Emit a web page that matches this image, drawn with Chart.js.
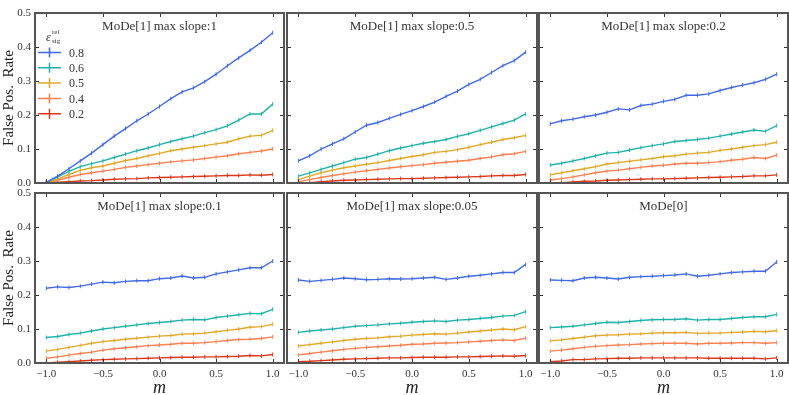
<!DOCTYPE html>
<html>
<head>
<meta charset="utf-8">
<script src="https://cdn.jsdelivr.net/npm/chart.js@4.4.1/dist/chart.umd.min.js"></script>
<style>
  html, body { margin: 0; padding: 0; background: #fff; overflow: hidden; }
  #wrap { position: relative; width: 789px; height: 395px; overflow: hidden; }
  canvas { position: absolute; }
</style>
</head>
<body>
<div id="wrap"></div>
<script>
// x positions (m) and tick labels
const mValues = [-1.0, -0.9, -0.8, -0.7, -0.6, -0.5, -0.4, -0.3, -0.2, -0.1, 0.0, 0.1, 0.2, 0.3, 0.4, 0.5, 0.6, 0.7, 0.8, 0.9, 1.0];
const xTicks = [-1.0, -0.5, 0.0, 0.5, 1.0];
const yTicks = [0.0, 0.1, 0.2, 0.3, 0.4, 0.5];
const effLabels = ["0.8", "0.6", "0.5", "0.4", "0.2"];
const panelTitles = [
  "MoDe[1] max slope:1",
  "MoDe[1] max slope:0.5",
  "MoDe[1] max slope:0.2",
  "MoDe[1] max slope:0.1",
  "MoDe[1] max slope:0.05",
  "MoDe[0]",
];

// MoDe[1] max slope:1
const slope1_e08 = [0.002, 0.02, 0.042, 0.065, 0.088, 0.113, 0.138, 0.16, 0.183, 0.203, 0.225, 0.248, 0.268, 0.28, 0.298, 0.32, 0.345, 0.368, 0.39, 0.414, 0.442];
const slope1_e06 = [0.002, 0.018, 0.034, 0.048, 0.057, 0.065, 0.075, 0.085, 0.095, 0.103, 0.113, 0.122, 0.13, 0.138, 0.148, 0.157, 0.168, 0.185, 0.203, 0.203, 0.232];
const slope1_e05 = [0.001, 0.012, 0.025, 0.037, 0.045, 0.05, 0.058, 0.066, 0.072, 0.08, 0.087, 0.095, 0.1, 0.105, 0.11, 0.115, 0.12, 0.13, 0.138, 0.14, 0.155];
const slope1_e04 = [0.0, 0.008, 0.017, 0.025, 0.03, 0.035, 0.04, 0.046, 0.05, 0.054, 0.058, 0.062, 0.065, 0.068, 0.072, 0.076, 0.08, 0.086, 0.09, 0.094, 0.1];
const slope1_e02 = [0.0, 0.002, 0.004, 0.006, 0.007, 0.009, 0.011, 0.012, 0.013, 0.015, 0.016, 0.017, 0.018, 0.019, 0.02, 0.021, 0.022, 0.022, 0.024, 0.023, 0.025];

// MoDe[1] max slope:0.5
const slope05_e08 = [0.065, 0.08, 0.1, 0.115, 0.13, 0.15, 0.17, 0.178, 0.19, 0.202, 0.213, 0.225, 0.238, 0.255, 0.27, 0.29, 0.305, 0.325, 0.345, 0.36, 0.385];
const slope05_e06 = [0.02, 0.03, 0.04, 0.05, 0.06, 0.07, 0.075, 0.085, 0.095, 0.103, 0.11, 0.117, 0.122, 0.128, 0.137, 0.145, 0.155, 0.165, 0.175, 0.185, 0.203];
const slope05_e05 = [0.01, 0.02, 0.03, 0.038, 0.045, 0.05, 0.055, 0.06, 0.066, 0.072, 0.078, 0.083, 0.09, 0.093, 0.098, 0.105, 0.113, 0.12, 0.128, 0.133, 0.14];
const slope05_e04 = [0.004, 0.01, 0.016, 0.022, 0.027, 0.032, 0.036, 0.04, 0.044, 0.048, 0.051, 0.054, 0.058, 0.061, 0.064, 0.067, 0.072, 0.077, 0.083, 0.086, 0.093];
const slope05_e02 = [0.0, 0.001, 0.004, 0.006, 0.008, 0.009, 0.01, 0.011, 0.012, 0.013, 0.013, 0.014, 0.015, 0.016, 0.017, 0.018, 0.019, 0.021, 0.022, 0.022, 0.025];

// MoDe[1] max slope:0.2
const slope02_e08 = [0.174, 0.183, 0.188, 0.195, 0.2, 0.208, 0.218, 0.215, 0.228, 0.232, 0.24, 0.246, 0.258, 0.258, 0.262, 0.272, 0.281, 0.288, 0.295, 0.305, 0.32];
const slope02_e06 = [0.053, 0.058, 0.065, 0.072, 0.08, 0.088, 0.09, 0.097, 0.104, 0.11, 0.115, 0.122, 0.125, 0.128, 0.132, 0.138, 0.144, 0.15, 0.156, 0.152, 0.169];
const slope02_e05 = [0.024, 0.03, 0.036, 0.042, 0.048, 0.056, 0.06, 0.064, 0.068, 0.072, 0.077, 0.08, 0.085, 0.088, 0.09, 0.096, 0.1, 0.105, 0.11, 0.113, 0.12];
const slope02_e04 = [0.009, 0.013, 0.018, 0.024, 0.03, 0.035, 0.038, 0.042, 0.046, 0.05, 0.052, 0.056, 0.058, 0.058, 0.06, 0.063, 0.067, 0.07, 0.075, 0.072, 0.082];
const slope02_e02 = [0.0, 0.001, 0.003, 0.005, 0.006, 0.008, 0.009, 0.01, 0.011, 0.012, 0.012, 0.013, 0.014, 0.015, 0.016, 0.017, 0.018, 0.019, 0.021, 0.021, 0.024];

// MoDe[1] max slope:0.1
const slope01_e08 = [0.22, 0.224, 0.222, 0.226, 0.232, 0.238, 0.236, 0.24, 0.242, 0.242, 0.248, 0.25, 0.256, 0.25, 0.252, 0.262, 0.268, 0.274, 0.28, 0.28, 0.3];
const slope01_e06 = [0.075, 0.078, 0.084, 0.088, 0.094, 0.1, 0.104, 0.108, 0.112, 0.116, 0.119, 0.122, 0.126, 0.128, 0.127, 0.134, 0.138, 0.142, 0.146, 0.145, 0.158];
const slope01_e05 = [0.035, 0.04, 0.046, 0.052, 0.058, 0.063, 0.066, 0.07, 0.073, 0.076, 0.079, 0.081, 0.085, 0.086, 0.088, 0.092, 0.096, 0.1, 0.105, 0.107, 0.114];
const slope01_e04 = [0.014, 0.018, 0.023, 0.028, 0.032, 0.038, 0.042, 0.045, 0.048, 0.051, 0.053, 0.055, 0.058, 0.058, 0.06, 0.063, 0.066, 0.069, 0.07, 0.072, 0.077];
const slope01_e02 = [0.0, 0.002, 0.004, 0.006, 0.008, 0.01, 0.011, 0.012, 0.013, 0.014, 0.015, 0.016, 0.017, 0.017, 0.018, 0.018, 0.019, 0.02, 0.022, 0.021, 0.025];

// MoDe[1] max slope:0.05
const slope005_e08 = [0.244, 0.24, 0.243, 0.246, 0.25, 0.248, 0.245, 0.246, 0.248, 0.247, 0.248, 0.25, 0.252, 0.246, 0.25, 0.255, 0.258, 0.262, 0.266, 0.266, 0.29];
const slope005_e06 = [0.09, 0.094, 0.097, 0.1, 0.104, 0.108, 0.11, 0.112, 0.115, 0.117, 0.12, 0.122, 0.124, 0.122, 0.126, 0.128, 0.131, 0.134, 0.138, 0.14, 0.151];
const slope005_e05 = [0.05, 0.054, 0.058, 0.062, 0.066, 0.07, 0.072, 0.074, 0.077, 0.079, 0.082, 0.084, 0.086, 0.085, 0.088, 0.091, 0.094, 0.097, 0.1, 0.098, 0.107];
const slope005_e04 = [0.024, 0.028, 0.032, 0.036, 0.04, 0.043, 0.046, 0.048, 0.05, 0.052, 0.055, 0.056, 0.058, 0.059, 0.06, 0.062, 0.064, 0.066, 0.068, 0.066, 0.073];
const slope005_e02 = [0.004, 0.005, 0.007, 0.009, 0.011, 0.012, 0.013, 0.014, 0.015, 0.015, 0.016, 0.017, 0.017, 0.017, 0.018, 0.018, 0.019, 0.02, 0.021, 0.02, 0.022];

// MoDe[0]
const mode0_e08 = [0.244, 0.243, 0.242, 0.25, 0.252, 0.25, 0.247, 0.252, 0.254, 0.255, 0.257, 0.259, 0.262, 0.255, 0.258, 0.262, 0.266, 0.268, 0.27, 0.27, 0.297];
const mode0_e06 = [0.104, 0.106, 0.108, 0.112, 0.116, 0.12, 0.119, 0.122, 0.125, 0.127, 0.128, 0.128, 0.13, 0.126, 0.128, 0.128, 0.131, 0.134, 0.136, 0.136, 0.143];
const mode0_e05 = [0.065, 0.068, 0.072, 0.076, 0.08, 0.082, 0.083, 0.085, 0.086, 0.088, 0.089, 0.089, 0.09, 0.087, 0.088, 0.088, 0.09, 0.091, 0.093, 0.092, 0.095];
const mode0_e04 = [0.035, 0.038, 0.042, 0.046, 0.049, 0.051, 0.053, 0.054, 0.056, 0.057, 0.058, 0.058, 0.058, 0.056, 0.058, 0.058, 0.059, 0.06, 0.06, 0.058, 0.06];
const mode0_e02 = [0.004, 0.006, 0.01, 0.01, 0.012, 0.013, 0.014, 0.014, 0.015, 0.015, 0.015, 0.015, 0.015, 0.015, 0.014, 0.014, 0.014, 0.014, 0.014, 0.012, 0.015];

const panelSeries = [
  [slope1_e08, slope1_e06, slope1_e05, slope1_e04, slope1_e02],
  [slope05_e08, slope05_e06, slope05_e05, slope05_e04, slope05_e02],
  [slope02_e08, slope02_e06, slope02_e05, slope02_e04, slope02_e02],
  [slope01_e08, slope01_e06, slope01_e05, slope01_e04, slope01_e02],
  [slope005_e08, slope005_e06, slope005_e05, slope005_e04, slope005_e02],
  [mode0_e08, mode0_e06, mode0_e05, mode0_e04, mode0_e02],
];

const colors = ["#4169e1", "#20b2aa", "#e0a828", "#fb7f50", "#d9381a"];
const serif = "'Liberation Serif', 'DejaVu Serif', serif";

// panel boxes in page pixels
const colEdges = [[35, 284], [287, 537], [539, 788]];
const rowEdges = [[13, 183], [193, 363]];
const M = 12;

const fmt = (v) => (v < 0 ? "\u2212" : "") + Math.abs(v).toFixed(1);

// frame, inward ticks, panel title and legend
const panelDeco = {
  id: "panelDeco",
  afterDraw(chart, args, opts) {
    const ctx = chart.ctx;
    const a = chart.chartArea;
    const xs = chart.scales.x, ys = chart.scales.y;
    ctx.save();
    ctx.strokeStyle = "#333";
    ctx.lineWidth = 1;
    xTicks.forEach((v) => {
      const px = Math.round(xs.getPixelForValue(v)) + 0.5;
      ctx.beginPath();
      ctx.moveTo(px, a.bottom); ctx.lineTo(px, a.bottom - 4);
      ctx.moveTo(px, a.top); ctx.lineTo(px, a.top + 4);
      ctx.stroke();
    });
    yTicks.forEach((v) => {
      const py = Math.round(ys.getPixelForValue(v)) + 0.5;
      ctx.beginPath();
      ctx.moveTo(a.left, py); ctx.lineTo(a.left + 4, py);
      ctx.moveTo(a.right, py); ctx.lineTo(a.right - 4, py);
      ctx.stroke();
    });
    ctx.strokeStyle = "#555";
    ctx.lineWidth = 2;
    ctx.strokeRect(a.left, a.top, a.right - a.left, a.bottom - a.top);

    ctx.fillStyle = "#333";
    ctx.font = "13px " + serif;
    ctx.textAlign = "center";
    ctx.textBaseline = "middle";
    ctx.fillText(opts.title, (a.left + a.right) / 2, a.top + 14);

    if (opts.legend) {
      const lx = a.left + 3;
      ctx.textAlign = "left";
      ctx.font = "italic 13px " + serif;
      ctx.fillText("\u03b5", a.left + 11, a.top + 25);
      ctx.font = "7px " + serif;
      ctx.fillText("rel", a.left + 17, a.top + 19);
      ctx.fillText("sig", a.left + 17, a.top + 28);
      effLabels.forEach((lab, k) => {
        const y = a.top + 39.5 + k * 15.3;
        ctx.strokeStyle = colors[k];
        ctx.lineWidth = 1.5;
        ctx.beginPath();
        ctx.moveTo(lx, y); ctx.lineTo(lx + 23, y);
        ctx.moveTo(lx + 11.5, y - 5); ctx.lineTo(lx + 11.5, y + 5);
        ctx.stroke();
        ctx.fillStyle = "#333";
        ctx.font = "12px " + serif;
        ctx.fillText(lab, lx + 31, y + 1);
      });
    }
    ctx.restore();
  },
};

const wrap = document.getElementById("wrap");

panelSeries.forEach((series, i) => {
  const col = i % 3, row = Math.floor(i / 3);
  const [l, r] = colEdges[col];
  const [t, b] = rowEdges[row];
  const yW = col === 0 ? 35 : 0;
  const xH = row === 1 ? 36 : 0;

  const canvas = document.createElement("canvas");
  canvas.width = r - l + yW + 2 * M;
  canvas.height = b - t + xH + 2 * M;
  canvas.style.left = (l - yW - M) + "px";
  canvas.style.top = (t - M) + "px";
  wrap.appendChild(canvas);

  new Chart(canvas.getContext("2d"), {
    type: "line",
    data: {
      datasets: series.map((vals, k) => ({
        label: effLabels[k],
        data: mValues.map((m, j) => ({ x: m, y: vals[j] })),
        borderColor: colors[k],
        backgroundColor: colors[k],
        borderWidth: 1.4,
        tension: 0,
        pointStyle: "line",
        rotation: 90,
        pointRadius: 2,
        pointBorderWidth: 1,
        pointBorderColor: colors[k],
      })),
    },
    options: {
      responsive: false,
      animation: false,
      devicePixelRatio: 1,
      layout: { padding: M },
      plugins: {
        legend: { display: false },
        tooltip: { enabled: false },
        panelDeco: { title: panelTitles[i], legend: i === 0 },
      },
      scales: {
        x: {
          type: "linear",
          min: -1.1,
          max: 1.1,
          afterBuildTicks: (s) => { s.ticks = xTicks.map((v) => ({ value: v })); },
          afterFit: (s) => { s.height = xH; },
          grid: { display: false, drawTicks: false },
          border: { display: false },
          ticks: {
            display: row === 1,
            padding: 5,
            maxRotation: 0,
            color: "#333",
            font: { family: serif, size: 11 },
            callback: (v) => fmt(v),
          },
          title: {
            display: row === 1,
            text: "m",
            color: "#222",
            padding: 0,
            font: { family: serif, size: 18, style: "italic" },
          },
        },
        y: {
          min: 0,
          max: 0.5,
          afterBuildTicks: (s) => { s.ticks = yTicks.map((v) => ({ value: v })); },
          afterFit: (s) => { s.width = yW; },
          grid: { display: false, drawTicks: false },
          border: { display: false },
          ticks: {
            display: col === 0,
            padding: 4,
            color: "#333",
            font: { family: serif, size: 11 },
            callback: (v) => fmt(v),
          },
          title: {
            display: col === 0,
            text: "False Pos.  Rate",
            color: "#222",
            padding: 0,
            font: { family: serif, size: 15 },
          },
        },
      },
    },
    plugins: [panelDeco],
  });
});
</script>
</body>
</html>
